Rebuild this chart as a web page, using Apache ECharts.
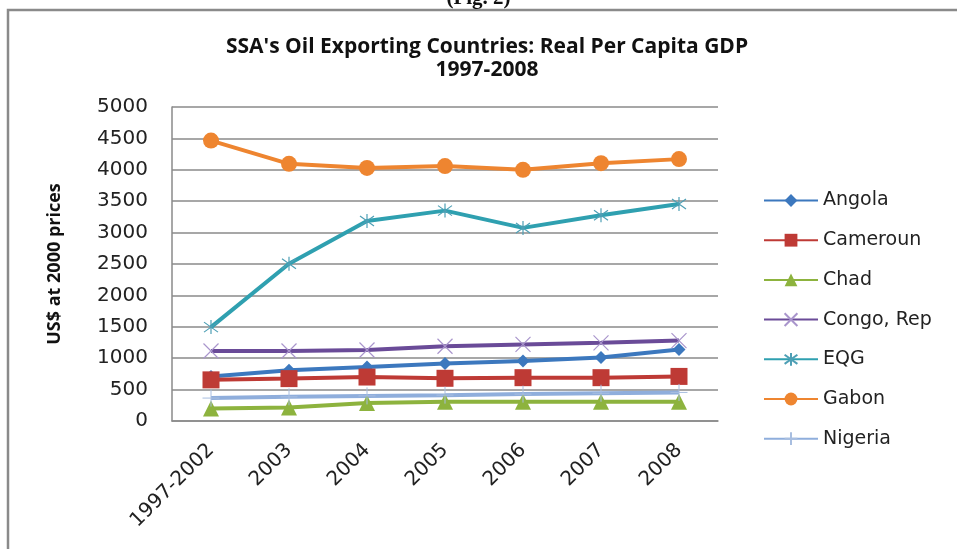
<!DOCTYPE html>
<html><head><meta charset="utf-8">
<script src="https://cdn.jsdelivr.net/npm/echarts@6/dist/echarts.min.js"></script>
<style>html,body{margin:0;padding:0;background:#fff}#c{width:957px;height:549px}</style>
</head><body><div id="c"></div>
<script>
const categories = ['1997-2002','2003','2004','2005','2006','2007','2008'];
const yTicks = [0,500,1000,1500,2000,2500,3000,3500,4000,4500,5000];
const angola   = [710, 810, 860, 915, 955, 1010, 1140];
const cameroun = [655, 675, 700, 680, 690, 690, 710];
const chad     = [200, 215, 285, 305, 305, 305, 305];
const congo    = [1115, 1115, 1130, 1190, 1220, 1245, 1280];
const eqg      = [1495, 2505, 3185, 3350, 3075, 3275, 3455];
const gabon    = [4465, 4095, 4030, 4060, 4000, 4105, 4170];
const nigeria  = [365, 385, 400, 412, 428, 442, 455];

const chart = echarts.init(document.getElementById('c'));
const xPath = 'path://M0,0L10,10M10,0L0,10';
const starPath = 'path://M0,0L10,10M10,0L0,10M5,-2L5,12';
const plusPath = 'path://M5,0L5,10M0,5L10,5';

function mk(name, data, color, symbol, size, extra) {
  return Object.assign({
    name: name, type: 'line', data: data,
    symbol: symbol, symbolSize: size,
    lineStyle: {width: 4, color: color},
    itemStyle: {color: color},
    z: 3
  }, extra || {});
}

const series = [
  mk('Angola', angola, '#3C78BE', 'diamond', 13),
  mk('Cameroun', cameroun, '#BE3A35', 'rect', 17),
  mk('Chad', chad, '#8DB33E', 'triangle', 16),
  mk('Congo, Rep', congo, '#6A4B98', xPath, 15, {itemStyle:{color:'#6A4B98', borderColor:'#A995CC', borderWidth:1.2}}),
  mk('EQG', eqg, '#2FA0B0', starPath, 14, {itemStyle:{color:'#2FA0B0', borderColor:'#4E9FB5', borderWidth:1.2}}),
  mk('Gabon', gabon, '#EE8530', 'circle', 16),
  mk('Nigeria', nigeria, '#8FAEDC', plusPath, 17, {itemStyle:{color:'#8FAEDC', borderColor:'#A8BEE0', borderWidth:1}})
];

chart.setOption({
  animation: false,
  backgroundColor: '#fff',
  title: {
    text: "SSA's Oil Exporting Countries: Real Per Capita GDP\n1997-2008",
    left: 482, top: 31, textAlign: 'center',
    textStyle: {fontFamily: 'Open Sans', fontWeight: 'bold', fontSize: 21, lineHeight: 23, color: '#111'}
  },
  legend: {
    orient: 'vertical', left: 758, top: 186,
    itemWidth: 54, itemHeight: 16, itemGap: 20.7,
    textStyle: {fontFamily: 'DejaVu Sans', fontSize: 19, color: '#222'},
    data: series.map(s => s.name)
  },
  grid: {left: 172, right: 239, top: 107, bottom: 128},
  xAxis: {
    type: 'category', data: categories, boundaryGap: true,
    axisLine: {lineStyle: {color: '#8a8a8a', width: 1.5}},
    axisTick: {show: false},
    axisLabel: {rotate: 45, margin: 26, fontFamily: 'DejaVu Sans', fontSize: 20, color: '#222'}
  },
  yAxis: {
    type: 'value', min: yTicks[0], max: yTicks[yTicks.length-1], interval: yTicks[1]-yTicks[0],
    name: 'US$ at 2000 prices', nameLocation: 'middle', nameGap: 108, nameRotate: 90,
    nameTextStyle: {fontFamily: 'Open Sans', fontWeight: 'bold', fontSize: 18, color: '#111'},
    axisLine: {show: true, lineStyle: {color: '#8a8a8a', width: 1.5}},
    axisTick: {show: false},
    axisLabel: {margin: 24, fontFamily: 'DejaVu Sans', fontSize: 20, color: '#222', formatter: v => String(v)},
    splitLine: {lineStyle: {color: '#8a8a8a', width: 1.5}}
  },
  graphic: [
    {type: 'rect', shape: {x: 8, y: 10, width: 960, height: 560}, style: {fill: null, stroke: '#8a8a8a', lineWidth: 2.5}, silent: true},
    {type: 'text', left: 'center', top: -12, style: {text: '(Fig. 2)', font: 'bold 21px "Liberation Serif"', fill: '#111'}, silent: true}
  ],
  series: series
});
</script></body></html>
